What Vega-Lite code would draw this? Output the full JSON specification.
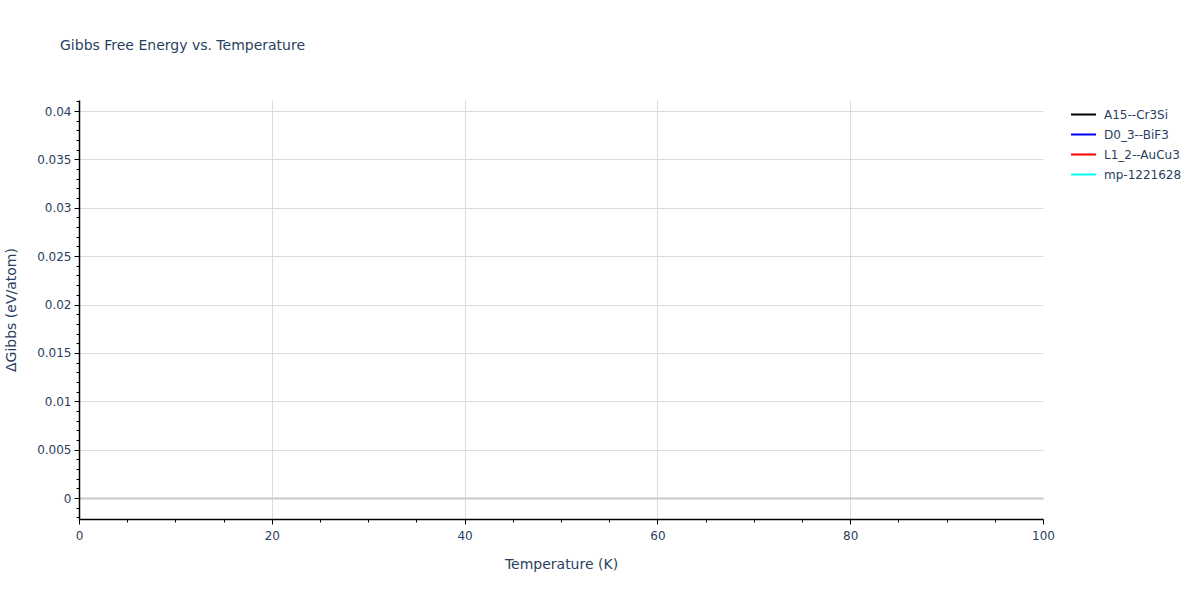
{
  "$schema": "https://vega.github.io/schema/vega-lite/v6.json",
  "autosize": "none",
  "width": 964,
  "height": 419,
  "padding": {"left": 79, "top": 100, "right": 157, "bottom": 81},
  "background": "white",
  "title": {
    "text": "Gibbs Free Energy vs. Temperature",
    "anchor": "start",
    "frame": "group",
    "dx": -19,
    "offset": 47,
    "font": "DejaVu Sans",
    "fontSize": 14,
    "fontWeight": "normal",
    "color": "#2a3f5f"
  },
  "config": {
    "view": {"stroke": null},
    "axis": {
      "labelFont": "DejaVu Sans",
      "labelFontSize": 12,
      "labelColor": "#2a3f5f",
      "titleFont": "DejaVu Sans",
      "titleFontSize": 14,
      "titleFontWeight": "normal",
      "titleColor": "#2a3f5f",
      "domainColor": "black",
      "domainWidth": 1.5,
      "tickColor": "black",
      "gridColor": "#dcdcdc"
    },
    "legend": {
      "labelFont": "DejaVu Sans",
      "labelFontSize": 12,
      "labelColor": "#2a3f5f"
    }
  },
  "data": {
    "values": [
      {"structure": "A15--Cr3Si", "T": 0, "dG": null},
      {"structure": "A15--Cr3Si", "T": 100, "dG": null},
      {"structure": "D0_3--BiF3", "T": 0, "dG": null},
      {"structure": "D0_3--BiF3", "T": 100, "dG": null},
      {"structure": "L1_2--AuCu3", "T": 0, "dG": null},
      {"structure": "L1_2--AuCu3", "T": 100, "dG": null},
      {"structure": "mp-1221628", "T": 0, "dG": null},
      {"structure": "mp-1221628", "T": 100, "dG": null}
    ]
  },
  "mark": {"type": "line", "strokeWidth": 2},
  "encoding": {
    "x": {
      "field": "T",
      "type": "quantitative",
      "title": "Temperature (K)",
      "scale": {"domain": [0, 100], "nice": false, "zero": false},
      "axis": {
        "values": [0, 5, 10, 15, 20, 25, 30, 35, 40, 45, 50, 55, 60, 65, 70, 75, 80, 85, 90, 95, 100],
        "labelExpr": "datum.value % 20 === 0 ? datum.label : ''",
        "labelFlush": false,
        "tickSize": {"condition": {"test": "datum.value % 20 === 0", "value": 5}, "value": 3},
        "gridOpacity": {"condition": {"test": "datum.value % 20 === 0 && datum.value > 0 && datum.value < 100", "value": 1}, "value": 0},
        "labelPadding": 6,
        "titlePadding": 16
      }
    },
    "y": {
      "field": "dG",
      "type": "quantitative",
      "title": "ΔGibbs (eV/atom)",
      "scale": {"domain": [-0.00217, 0.04114], "nice": false, "zero": false},
      "axis": {
        "values": [-0.002, -0.001, 0, 0.001, 0.002, 0.003, 0.004, 0.005, 0.006, 0.007, 0.008, 0.009, 0.01, 0.011, 0.012, 0.013, 0.014, 0.015, 0.016, 0.017, 0.018, 0.019, 0.02, 0.021, 0.022, 0.023, 0.024, 0.025, 0.026, 0.027, 0.028, 0.029, 0.03, 0.031, 0.032, 0.033, 0.034, 0.035, 0.036, 0.037, 0.038, 0.039, 0.04, 0.041],
        "labelExpr": "abs(round(datum.value * 1000)) % 5 === 0 ? format(datum.value, '~g') : ''",
        "tickSize": {"condition": {"test": "abs(round(datum.value * 1000)) % 5 === 0", "value": 5}, "value": 3},
        "gridOpacity": {"condition": {"test": "abs(round(datum.value * 1000)) % 5 === 0", "value": 1}, "value": 0},
        "gridWidth": {"condition": {"test": "round(datum.value * 1000) === 0", "value": 2}, "value": 1},
        "gridColor": {"condition": {"test": "round(datum.value * 1000) === 0", "value": "#c8c8c8"}, "value": "#dcdcdc"},
        "labelPadding": 3,
        "titlePadding": 18
      }
    },
    "color": {
      "field": "structure",
      "type": "nominal",
      "title": null,
      "scale": {
        "domain": ["A15--Cr3Si", "D0_3--BiF3", "L1_2--AuCu3", "mp-1221628"],
        "range": ["black", "blue", "red", "cyan"]
      },
      "legend": {
        "orient": "none",
        "legendX": 991,
        "legendY": 1,
        "symbolType": "stroke",
        "symbolSize": 625,
        "symbolStrokeWidth": 2,
        "rowPadding": 0,
        "labelOffset": 7
      }
    }
  }
}
